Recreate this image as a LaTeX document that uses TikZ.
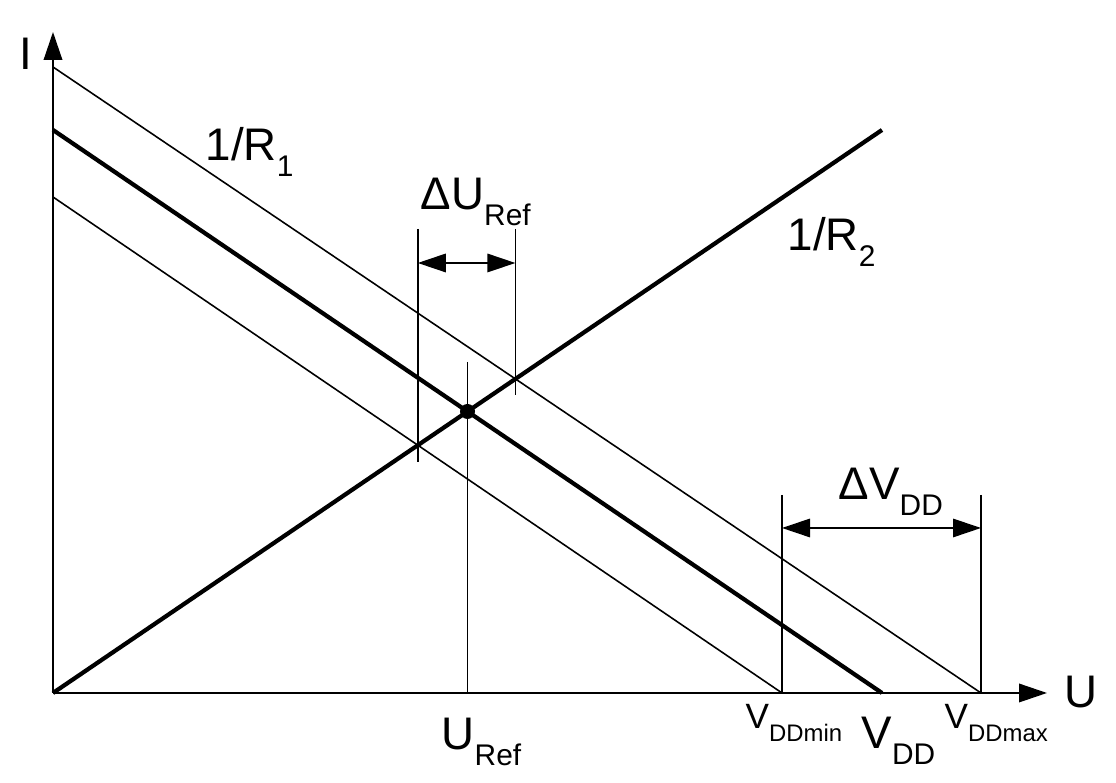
\documentclass[tikz,border=0pt]{standalone}
\usepackage{fontspec}
\setmainfont{Liberation Sans}
\usetikzlibrary{arrows.meta}
\newcommand{\lowa}[1]{\raisebox{-4.5pt}{\fontsize{8.5}{10}\selectfont #1}}
\newcommand{\lowb}[1]{\raisebox{-3.6pt}{\fontsize{6.8}{8}\selectfont #1}}

\begin{document}
\begin{tikzpicture}[>={Triangle[length=2.8mm,width=1.85mm]},
    lbl/.style={font=\fontsize{13}{15}\selectfont,inner sep=0pt,anchor=base west},
    slbl/.style={font=\fontsize{10}{12}\selectfont,inner sep=0pt,anchor=base west}]
  \useasboundingbox (-0.53,-0.90) rectangle (10.63,6.93);

  % axes
  \path (0,0) coordinate (O) (0,6.61) coordinate (Itop) (9.94,0) coordinate (Uend);
  \draw[line width=.55pt,->] (O) to (Itop);
  \draw[line width=.55pt,->] (O) to (Uend);

  % load lines
  \path (0,6.26) coordinate (hi0) (9.28,0) coordinate (hi1);
  \path (0,5.63) coordinate (mid0) (8.29,0) coordinate (mid1);
  \path (0,4.96) coordinate (lo0) (7.29,0) coordinate (lo1);
  \path (8.29,5.63) coordinate (rtwo);
  \draw[line width=.45pt] (hi0) to (hi1);
  \draw[line width=.45pt] (lo0) to (lo1);
  \draw[line width=1.2pt] (mid0) to (mid1);
  \draw[line width=1.2pt] (O) to (rtwo);

  % operating point
  \path (4.145,2.815) coordinate (Q); \fill (Q) circle (0.075);
  \path (4.145,3.31) coordinate (Qtop) (4.145,0) coordinate (Qbot);
  \draw[line width=.45pt] (Qtop) to (Qbot);

  % Delta U_Ref
  \path (3.648,4.64) coordinate (ua0) (3.648,2.31) coordinate (ua1);
  \path (4.624,4.64) coordinate (ub0) (4.624,2.98) coordinate (ub1);
  \draw[line width=.45pt] (ua0) to (ua1);
  \draw[line width=.45pt] (ub0) to (ub1);
  \path (3.648,4.30) coordinate (uaa) (4.624,4.30) coordinate (ubb);
  \draw[line width=.45pt,<->] (uaa) to (ubb);

  % Delta V_DD
  \path (7.29,1.98) coordinate (va0) (9.28,1.98) coordinate (vb0);
  \draw[line width=.45pt] (va0) to (lo1);
  \draw[line width=.45pt] (vb0) to (hi1);
  \path (7.29,1.65) coordinate (vaa) (9.28,1.65) coordinate (vbb);
  \draw[line width=.45pt,<->] (vaa) to (vbb);

  \node[lbl,anchor=base] (I) at (-0.275,6.23) {I};
  \node[lbl,anchor=base] (U) at (10.28,-0.15) {U};
  \node[lbl] (r1) at (1.52,5.32) {1/R\lowa{1}};
  \node[lbl] (r2) at (7.34,4.42) {1/R\lowa{2}};
  \node[lbl] (dU) at (3.67,4.83) {ΔU\lowa{Ref}};
  \node[lbl] (dV) at (7.85,1.93) {ΔV\lowa{DD}};
  \node[lbl] (uref) at (3.88,-0.57) {U\lowa{Ref}};
  \node[lbl] (vdd) at (8.08,-0.56) {V\lowa{DD}};
  \node[slbl] (vmin) at (6.92,-0.36) {V\lowb{DDmin}};
  \node[slbl] (vmax) at (8.91,-0.36) {V\lowb{DDmax}};

\end{tikzpicture}
\end{document}
